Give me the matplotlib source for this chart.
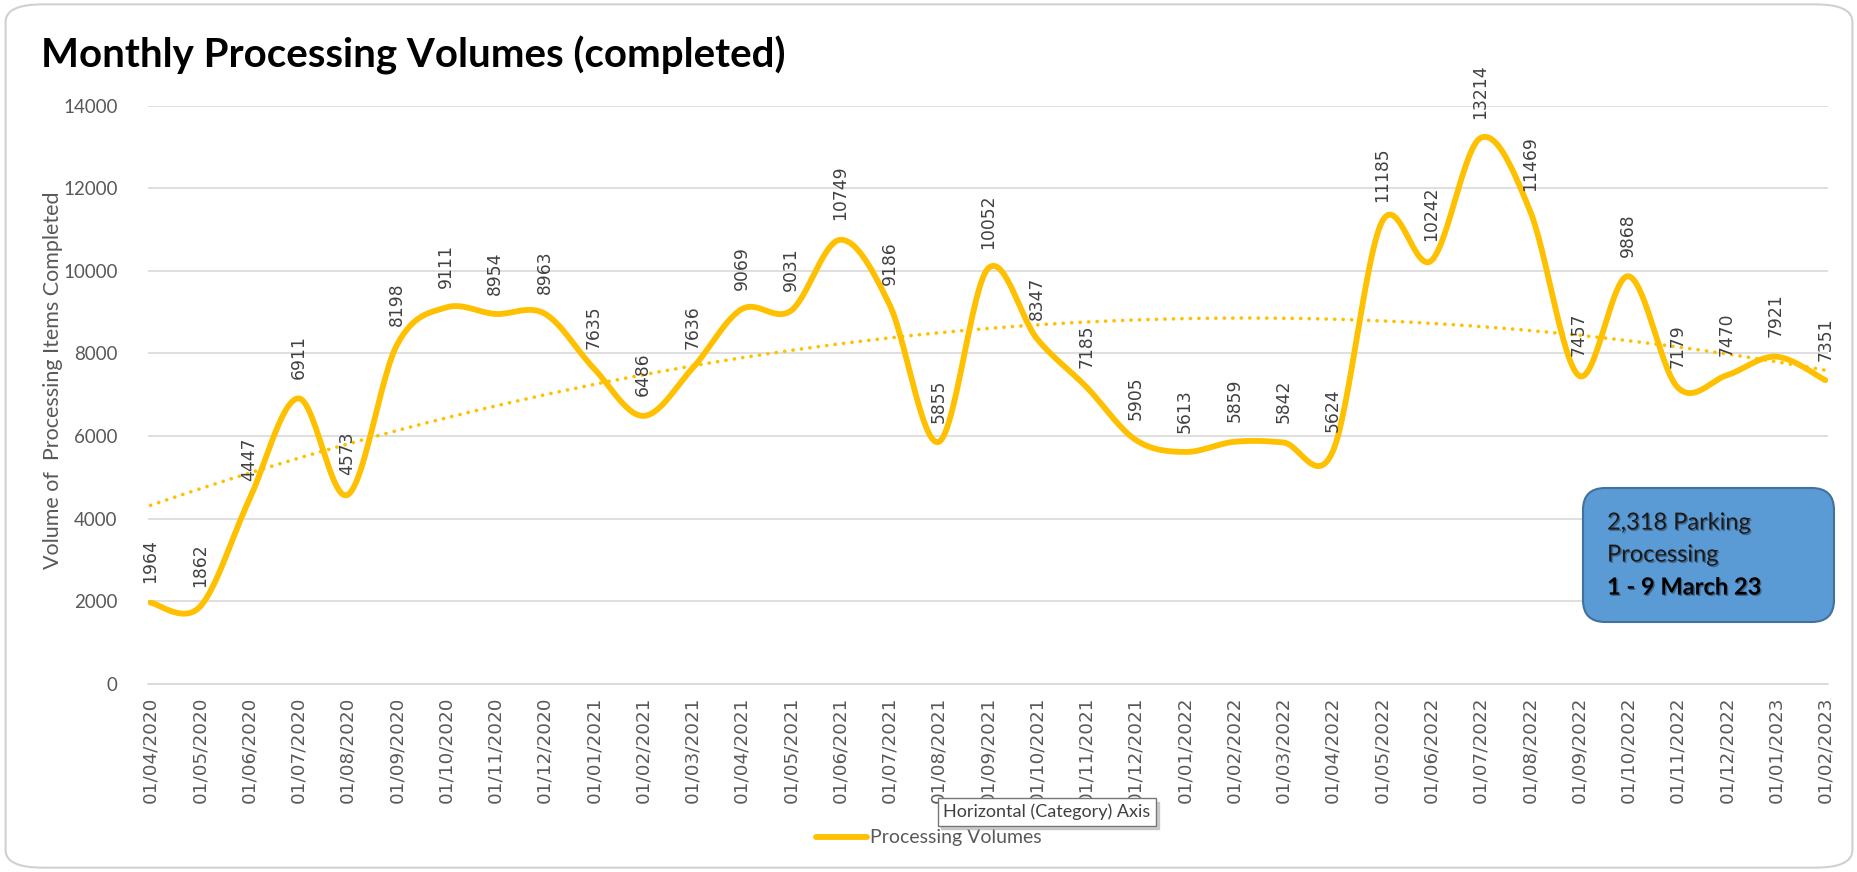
import matplotlib
matplotlib.use("Agg")
import matplotlib.pyplot as plt
import numpy as np
from matplotlib.patches import FancyBboxPatch
import matplotlib.patheffects as pe

# Data
months = ["01/04/2020", "01/05/2020", "01/06/2020", "01/07/2020", "01/08/2020", "01/09/2020",
          "01/10/2020", "01/11/2020", "01/12/2020", "01/01/2021", "01/02/2021", "01/03/2021",
          "01/04/2021", "01/05/2021", "01/06/2021", "01/07/2021", "01/08/2021", "01/09/2021",
          "01/10/2021", "01/11/2021", "01/12/2021", "01/01/2022", "01/02/2022", "01/03/2022",
          "01/04/2022", "01/05/2022", "01/06/2022", "01/07/2022", "01/08/2022", "01/09/2022",
          "01/10/2022", "01/11/2022", "01/12/2022", "01/01/2023", "01/02/2023"]
volumes = [1964, 1862, 4447, 6911, 4573, 8198, 9111, 8954, 8963, 7635, 6486, 7636,
           9069, 9031, 10749, 9186, 5855, 10052, 8347, 7185, 5905, 5613, 5859, 5842,
           5624, 11185, 10242, 13214, 11469, 7457, 9868, 7179, 7470, 7921, 7351]
y_ticks = [0, 2000, 4000, 6000, 8000, 10000, 12000, 14000]

GOLD = "#FFC000"
GREY = "#595959"


def smooth_line(x, y, steps=30):
    """ Excel-style smoothed line: Bezier segments with Catmull-Rom tangents """
    x = np.asarray(x, float)
    y = np.asarray(y, float)
    px = np.concatenate(([x[0]], x, [x[-1]]))
    py = np.concatenate(([y[0]], y, [y[-1]]))
    t = np.linspace(0, 1, steps)
    xs, ys = [], []
    for i in range(1, len(px) - 2):
        p0 = np.array([px[i], py[i]])
        p3 = np.array([px[i + 1], py[i + 1]])
        p1 = p0 + (np.array([px[i + 1], py[i + 1]]) - np.array([px[i - 1], py[i - 1]])) / 6
        p2 = p3 - (np.array([px[i + 2], py[i + 2]]) - np.array([px[i], py[i]])) / 6
        b = ((1 - t) ** 3)[:, None] * p0 + (3 * (1 - t) ** 2 * t)[:, None] * p1 \
            + (3 * (1 - t) * t ** 2)[:, None] * p2 + (t ** 3)[:, None] * p3
        xs.append(b[:, 0])
        ys.append(b[:, 1])
    return np.concatenate(xs), np.concatenate(ys)


def main():
    fig = plt.figure(figsize=(18.58, 8.72), dpi=100)
    ax = fig.add_axes([0.0797, 0.2158, 0.9043, 0.6632])

    idx = np.arange(len(volumes))
    sx, sy = smooth_line(idx, volumes)
    line, = ax.plot(sx, sy, color=GOLD, lw=4.2, solid_capstyle="round", zorder=3,
                    label="Processing Volumes")

    # Polynomial (order 2) trendline
    coef = np.polyfit(idx, volumes, 2)
    tx = np.linspace(0, len(volumes) - 1, 300)
    ax.plot(tx, np.polyval(coef, tx), color=GOLD, lw=2.6, linestyle=(0, (0.05, 2.3)),
            dash_capstyle="round", zorder=2)

    for i, v in enumerate(volumes):
        ax.annotate(str(v), (i, v), xytext=(0, 14), textcoords="offset points",
                    rotation=90, ha="center", va="bottom", fontsize=12.3,
                    color="#404040", family="DejaVu Sans", annotation_clip=False)

    ax.set_xlim(-0.05, len(volumes) - 1 + 0.06)
    ax.set_ylim(0, 14000)
    ax.set_yticks(y_ticks)
    ax.set_yticklabels([str(v) for v in y_ticks], family="Lato", fontsize=13.5, color=GREY)
    ax.set_xticks(idx)
    ax.set_xticklabels(months, rotation=90, family="DejaVu Sans", fontsize=13.2, color=GREY)
    ax.tick_params(axis="both", length=0)
    ax.tick_params(axis="x", pad=9)
    ax.tick_params(axis="y", pad=22)
    ax.grid(axis="y", color="#D9D9D9", lw=1.2)
    ax.set_axisbelow(True)
    for side in ["top", "right", "left"]:
        ax.spines[side].set_visible(False)
    ax.spines["bottom"].set_color("#D9D9D9")
    ax.spines["bottom"].set_linewidth(1.2)

    fig.text(53 / 1858, 1 - 380 / 872, "Volume of  Processing Items Completed", family="Lato",
             fontsize=15.5, color=GREY, rotation=90, ha="center", va="center")

    fig.text(0.022, 0.936, "Monthly Processing Volumes (completed)", family="Lato",
             fontweight="bold", fontsize=29, color="black", va="center", ha="left")

    fig.legend(handles=[line], loc="center", bbox_to_anchor=(0.5, 0.039), frameon=False,
               prop={"family": "Lato", "size": 14}, handlelength=2.6, handletextpad=0.2,
               labelcolor=GREY)

    # Outer chart border
    fig.patches.append(FancyBboxPatch((0.003, 0.005), 0.994, 0.99,
                                      boxstyle="round,pad=0,rounding_size=0.02",
                                      transform=fig.transFigure, facecolor="none",
                                      edgecolor="#D0D0D0", lw=1.5, zorder=0))

    # Annotation box
    box = FancyBboxPatch((1583 / 1858, 1 - 622 / 872), 251 / 1858, 134 / 872,
                         boxstyle="round,pad=0,rounding_size=0.012",
                         mutation_aspect=2.1,
                         transform=fig.transFigure, facecolor="#5B9BD5",
                         edgecolor="#41719C", lw=1.5, zorder=5)
    fig.patches.append(box)
    shadow = [pe.withSimplePatchShadow(offset=(1, -1), alpha=0.35)]
    box_x = 1607 / 1858
    fig.text(box_x, 0.4002, "2,318 Parking", family="Lato", fontsize=17, color="#1a1a1a",
             va="center", zorder=6, path_effects=shadow)
    fig.text(box_x, 0.3635, "Processing", family="Lato", fontsize=17, color="#1a1a1a",
             va="center", zorder=6, path_effects=shadow)
    fig.text(box_x, 0.3268, "1 - 9 March 23", family="Lato", fontsize=17, fontweight="bold",
             color="#000000", va="center", zorder=6, path_effects=shadow)

    # Hover tooltip (with a small drop shadow)
    tip = "Horizontal (Category) Axis"
    fig.text(0.5075 + 0.002, 0.069 - 0.004, tip, family="Lato", fontsize=13, color="#B0B0B0",
             va="center", ha="left", zorder=7,
             bbox=dict(boxstyle="square,pad=0.3", facecolor="#B0B0B0", edgecolor="#B0B0B0",
                       lw=1, alpha=0.6))
    fig.text(0.5075, 0.069, tip, family="Lato", fontsize=13,
             color="#404040", va="center", ha="left", zorder=8,
             bbox=dict(boxstyle="square,pad=0.3", facecolor="white", edgecolor="#767676",
                       lw=1))

    fig.savefig("out.png", dpi=100, facecolor="white")


if __name__ == '__main__':
    main()
